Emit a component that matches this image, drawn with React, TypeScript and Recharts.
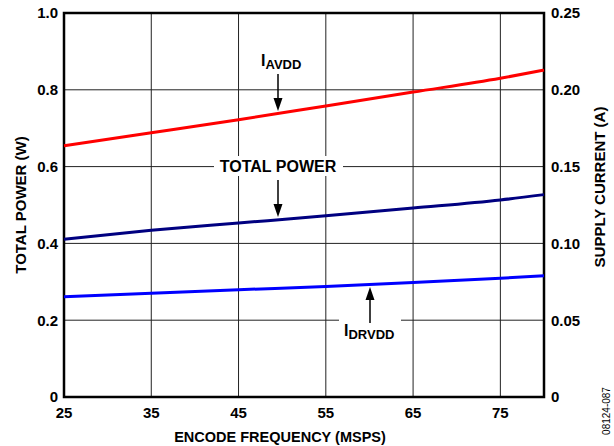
import {
  LineChart,
  Line,
  XAxis,
  YAxis,
  CartesianGrid,
  ReferenceArea
} from 'recharts'

// encode frequency (MSPS)
const freqs = [25, 35, 45, 55, 65, 75, 80]
// I_AVDD supply current (A)
const iAvdd = [0.1636, 0.172, 0.1805, 0.1895, 0.1985, 0.2075, 0.2128]
// total power (W)
const totalPower = [0.411, 0.434, 0.453, 0.472, 0.492, 0.513, 0.527]
// I_DRVDD supply current (A)
const iDrvdd = [0.0653, 0.0675, 0.0698, 0.072, 0.0745, 0.0773, 0.0789]

const xTicks = [25, 35, 45, 55, 65, 75]
const powerTicks = [0, 0.2, 0.4, 0.6, 0.8, 1.0]
const currentTicks = [0, 0.05, 0.1, 0.15, 0.2, 0.25]

const FONT = '"Liberation Sans", Arial, sans-serif'

export default function App() {
  const chartData = freqs.map((f, i) => ({
    freq: f,
    avdd: iAvdd[i],
    power: totalPower[i],
    drvdd: iDrvdd[i]
  }))

  const tickStyle = { fontFamily: FONT, fontSize: 15, fontWeight: 700, fill: '#000' }

  return (
    <div style={{ position: 'absolute', left: 0, top: 0, width: 614, height: 446, background: '#fff' }}>
      <LineChart
        width={614}
        height={446}
        data={chartData}
        margin={{ top: 13, right: 0, bottom: 0, left: 0 }}>
        <CartesianGrid
          yAxisId="left"
          stroke="#222"
          strokeWidth={1}
          fill="none"
          horizontalValues={powerTicks}
          verticalValues={xTicks}
        />
        <XAxis
          dataKey="freq"
          type="number"
          domain={[25, 80]}
          ticks={xTicks}
          height={49}
          tickSize={0}
          tickMargin={10}
          axisLine={false}
          tick={tickStyle}
        />
        <YAxis
          yAxisId="left"
          orientation="left"
          domain={[0, 1]}
          ticks={powerTicks}
          tickFormatter={(v: number) => (v === 0 ? '0' : v.toFixed(1))}
          width={64}
          tickSize={0}
          tickMargin={6}
          axisLine={false}
          tick={tickStyle}
        />
        <YAxis
          yAxisId="right"
          orientation="right"
          domain={[0, 0.25]}
          ticks={currentTicks}
          tickFormatter={(v: number) => (v === 0 ? '0' : v.toFixed(2))}
          width={70}
          tickSize={0}
          tickMargin={7}
          axisLine={false}
          tick={{ ...tickStyle, textAnchor: 'start' }}
        />
        <Line
          yAxisId="right"
          dataKey="avdd"
          type="monotone"
          stroke="#ff0000"
          strokeWidth={3}
          dot={false}
          isAnimationActive={false}
        />
        <Line
          yAxisId="left"
          dataKey="power"
          type="monotone"
          stroke="#000080"
          strokeWidth={3}
          dot={false}
          isAnimationActive={false}
        />
        <Line
          yAxisId="right"
          dataKey="drvdd"
          type="monotone"
          stroke="#0000ff"
          strokeWidth={3}
          dot={false}
          isAnimationActive={false}
        />
        <ReferenceArea
          yAxisId="left"
          x1={25}
          x2={80}
          y1={0}
          y2={1}
          fill="none"
          fillOpacity={0}
          stroke="#000"
          strokeWidth={2.5}
        />
      </LineChart>

      {/* annotations, axis titles */}
      <svg
        width={614}
        height={446}
        style={{ position: 'absolute', left: 0, top: 0, pointerEvents: 'none' }}
        fontFamily={FONT}
        fontWeight={700}>
        {/* I_AVDD */}
        <text x={261} y={66} fontSize={16}>
          I<tspan fontSize={13} dy={3}>AVDD</tspan>
        </text>
        <line x1={278} y1={74} x2={278} y2={100} stroke="#000" strokeWidth={1.5} />
        <polygon points="273.5,98 282.5,98 278,111" fill="#000" />

        {/* TOTAL POWER */}
        <rect x={214} y={156} width={129} height={20} fill="#fff" />
        <text x={278} y={172} fontSize={16} textAnchor="middle">
          TOTAL POWER
        </text>
        <line x1={278} y1={180} x2={278} y2={206} stroke="#000" strokeWidth={1.5} />
        <polygon points="273.5,204 282.5,204 278,217" fill="#000" />

        {/* I_DRVDD */}
        <rect x={339} y={316} width={62} height={10} fill="#fff" />
        <line x1={370} y1={323} x2={370} y2={298} stroke="#000" strokeWidth={1.5} />
        <polygon points="365.5,300 374.5,300 370,287" fill="#000" />
        <text x={344} y={336} fontSize={16}>
          I<tspan fontSize={13} dy={3}>DRVDD</tspan>
        </text>

        {/* axis titles */}
        <text x={280} y={442} fontSize={14.5} textAnchor="middle">
          ENCODE FREQUENCY (MSPS)
        </text>
        <text
          x={0}
          y={0}
          fontSize={15}
          textAnchor="middle"
          transform="translate(26 205) rotate(-90)">
          TOTAL POWER (W)
        </text>
        <text
          x={0}
          y={0}
          fontSize={15}
          textAnchor="middle"
          transform="translate(605 187) rotate(-90)">
          SUPPLY CURRENT (A)
        </text>
        <text
          x={0}
          y={0}
          fontSize={10}
          fontWeight={400}
          textAnchor="middle"
          transform="translate(610 411) rotate(-90)">
          08124-087
        </text>
      </svg>
    </div>
  )
}
